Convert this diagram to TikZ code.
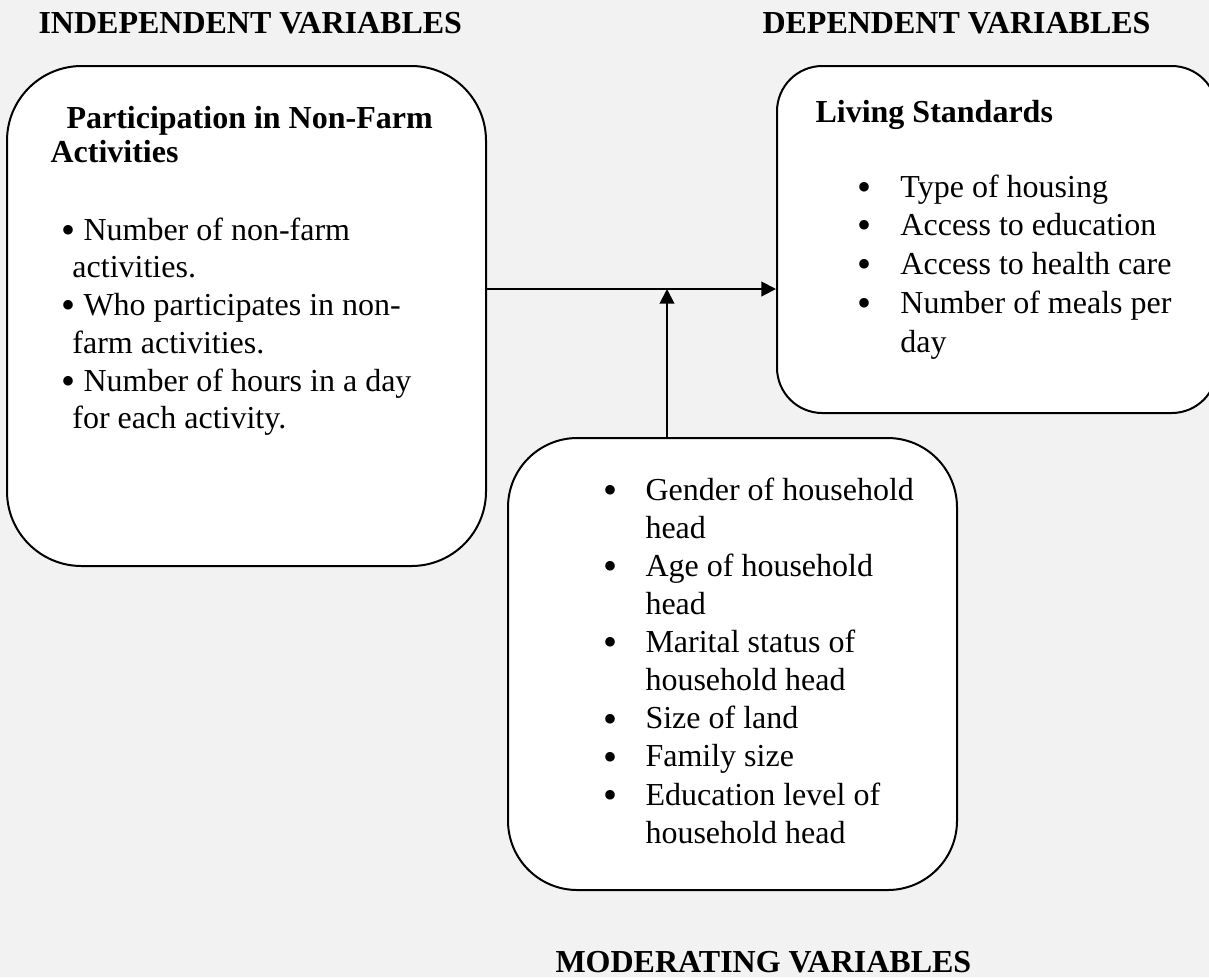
\documentclass[tikz,border=0pt]{standalone}
\usepackage{fontspec}
\setmainfont{Liberation Serif}
\usetikzlibrary{arrows.meta,positioning,fit}
\definecolor{pagegray}{HTML}{F2F2F2}
\newcommand{\bul}[1]{\makebox[#1][l]{\raisebox{-1.2pt}{\scalebox{1.25}{\textbullet}}}}

\begin{document}
\begin{tikzpicture}[
  x=0.375pt, y=-0.375pt,
  font=\fontsize{12pt}{14.3pt}\selectfont,
  >={Triangle[length=5.5pt, width=5.5pt]},
  bx/.style={draw, line width=0.75pt, fill=white, inner sep=0pt},
  hd/.style={font=\fontsize{12pt}{13.1pt}\selectfont\bfseries, anchor=base west, inner sep=0pt},
  lst/.style={anchor=base west, inner sep=0pt},
  ln/.style={->, line width=0.75pt}]

\fill[pagegray] (0,0) rectangle (1209,977);
\useasboundingbox (0,0) rectangle (1209,977);

% ===== headings =====
\node[hd] (indephd) at (38,33)  {INDEPENDENT VARIABLES};
\node[hd] (dephd)   at (762,33) {DEPENDENT VARIABLES};
\node[hd] (modhd)   at (555,972){MODERATING VARIABLES};

% ===== boxes =====
\node[bx, rounded corners=28pt, fit={(7,66) (486,566)}]    (indep) {};
\node[bx, rounded corners=17pt, fit={(777,66) (1217,413)}] (dep)   {};
\node[bx, rounded corners=26pt, fit={(508,438) (957,890)}] (moder) {};

% ===== independent =====
\node[hd] (indepttl) at (50,128) {\begin{tabular}[t]{@{}l@{}}
  \hspace*{6pt}Participation in Non-Farm\\
  Activities
  \end{tabular}};
\node[lst, font=\fontsize{12pt}{14.17pt}\selectfont] (indeplst) at (61,240) {\begin{tabular}[t]{@{}l@{}}
  \bul{8.25pt}Number of non-farm\\
  \hspace*{4.1pt}activities.\\
  \bul{8.25pt}Who participates in non-\\
  \hspace*{4.1pt}farm activities.\\
  \bul{8.25pt}Number of hours in a day\\
  \hspace*{4.1pt}for each activity.
  \end{tabular}};

% ===== dependent =====
\node[hd] (depttl) at (815,122) {Living Standards};
\node[lst, font=\fontsize{12pt}{14.53pt}\selectfont] (deplst) at (857,197) {\begin{tabular}[t]{@{}l@{}}
  \bul{16.1pt}Type of housing\\
  \bul{16.1pt}Access to education\\
  \bul{16.1pt}Access to health care\\
  \bul{16.1pt}Number of meals per\\
  \hspace*{16.1pt}day
  \end{tabular}};

% ===== moderating =====
\node[lst] (modlst) at (603,500) {\begin{tabular}[t]{@{}l@{}}
  \bul{15.75pt}Gender of household\\
  \hspace*{15.75pt}head\\
  \bul{15.75pt}Age of household\\
  \hspace*{15.75pt}head\\
  \bul{15.75pt}Marital status of\\
  \hspace*{15.75pt}household head\\
  \bul{15.75pt}Size of land\\
  \bul{15.75pt}Family size\\
  \bul{15.75pt}Education level of\\
  \hspace*{15.75pt}household head
  \end{tabular}};

% ===== arrows =====
\coordinate (mid) at (667,289);
\draw[ln] (indep.east |- mid) -- (dep.west |- mid);
\draw[ln] (moder.north -| mid) -- (mid);

\end{tikzpicture}
\end{document}
